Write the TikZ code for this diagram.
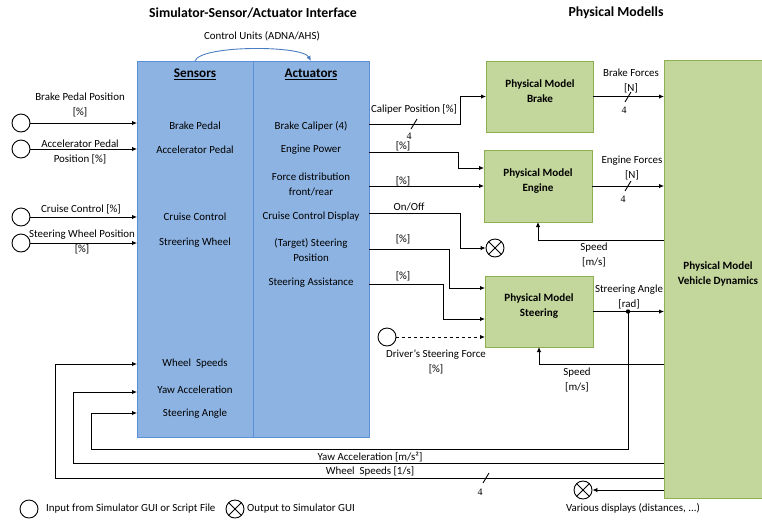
\documentclass[tikz,border=0pt]{standalone}
\usepackage{fontspec}
\setmainfont{Carlito}
\newfontfamily\numfont{Liberation Serif}
\usetikzlibrary{arrows.meta}
\definecolor{bluefill}{HTML}{8DB3E2}
\definecolor{blueline}{HTML}{5B8FD6}
\definecolor{greenfill}{HTML}{C3D69B}
\definecolor{greenline}{HTML}{8EB04E}
\definecolor{arcblue}{HTML}{4A7EC0}
\begin{document}
\begin{tikzpicture}[x=1pt,y=-1pt,
  font=\fontsize{10.9}{15}\selectfont,
  txt/.style={inner sep=0pt, align=center, font=\fontsize{10.9}{15}\selectfont},
  bold/.style={txt, font=\fontsize{11.1}{15}\selectfont\bfseries},
  hdr/.style={txt, font=\fontsize{13.2}{15}\selectfont\bfseries},
  line/.style={draw=black, line width=0.9pt},
  arr/.style={line, -{Latex[length=5pt,width=4.5pt]}},
  bluebox/.style={draw=blueline, fill=bluefill, line width=1pt, inner sep=0pt, outer sep=0pt, anchor=north west},
  greenbox/.style={draw=greenline, fill=greenfill, line width=1pt, inner sep=0pt, outer sep=0pt, anchor=north west},
  incirc/.style={draw=black, line width=0.9pt, circle, minimum size=18pt, inner sep=0pt, fill=white},
  outcirc/.style={incirc, path picture={\draw[line width=0.9pt] (path picture bounding box.north west) -- (path picture bounding box.south east) (path picture bounding box.north east) -- (path picture bounding box.south west);}},
  busnum/.style={inner sep=0pt, font=\fontsize{10}{10}\numfont},
]
\useasboundingbox (0,0) rectangle (762,520);

% titles
\node[txt, font=\fontsize{13.8}{15}\selectfont\bfseries] (t1) at (253,13) {Simulator-Sensor/Actuator Interface};
\node[txt, font=\fontsize{13.8}{15}\selectfont\bfseries] (t2) at (616,13) {Physical Modells};

% blue boxes
\node[bluebox, minimum width=116pt, minimum height=376pt] (sens) at (137,61) {};
\node[bluebox, minimum width=116pt, minimum height=376pt] (act) at (253,61) {};

% control units arc
\coordinate (cu1) at (195,61);
\coordinate (cu2) at (311,61);
\draw[draw=arcblue, line width=0.9pt, -{Latex[length=5pt,width=4.5pt]}] (cu1) .. controls (200,45) and (302,45) .. (cu2);
\node[txt] (cul) at (262,36) {Control Units (ADNA/AHS)};

% headers
\node[hdr] (hs) at (195,74) {\underline{Sensors}};
\node[hdr] (ha) at (311,74) {\underline{Actuators}};

% sensor labels
\node[txt] (s1) at (195,126) {Brake Pedal};
\node[txt] (s2) at (195,150) {Accelerator Pedal};
\node[txt] (s3) at (195,217) {Cruise Control};
\node[txt] (s4) at (195,243) {Streering Wheel};
\node[txt] (s5) at (195,364) {Wheel\ \ Speeds};
\node[txt] (s6) at (195,390) {Yaw Acceleration};
\node[txt] (s7) at (195,414) {Steering Angle};

% actuator labels
\node[txt] (a1) at (311,126) {Brake Caliper (4)};
\node[txt] (a2) at (311,150) {Engine Power};
\node[txt] (a3) at (311,184) {Force distribution\\front/rear};
\node[txt] (a4) at (311,217) {Cruise Control Display};
\node[txt] (a5) at (311,250) {(Target) Steering\\Position};
\node[txt] (a6) at (311,283) {Steering Assistance};

% green boxes
\node[greenbox, minimum width=107pt, minimum height=71pt] (brake) at (486,61) {};
\node[greenbox, minimum width=108pt, minimum height=72pt] (engine) at (484,150) {};
\node[greenbox, minimum width=108pt, minimum height=71pt] (steer) at (485,276) {};
\node[greenbox, minimum width=104pt, minimum height=438pt] (vd) at (664,60) {};
\node[bold] (bl) at (540,91) {Physical Model\\Brake};
\node[bold] (el) at (538,181) {Physical Model\\Engine};
\node[bold] (stl) at (539,306) {Physical Model\\Steering};
\node[bold] (vdl) at (718,274) {Physical Model\\Vehicle Dynamics};

% inputs from GUI
\node[incirc] (i1) at (21,123) {};
\node[incirc] (i2) at (21,149) {};
\node[incirc] (i3) at (21,217) {};
\node[incirc] (i4) at (21,243) {};
\draw[arr] (i1.east) -- (i1.east -| sens.west);
\draw[arr] (i2.east) -- (i2.east -| sens.west);
\draw[arr] (i3.east) -- (i3.east -| sens.west);
\draw[arr] (i4.east) -- (i4.east -| sens.west);
\node[txt] (il1) at (80,104.5) {Brake Pedal Position\\{[\%]}};
\node[txt] (il2) at (80,151.5) {Accelerator Pedal\\Position [\%]};
\node[txt] (il3) at (81,209) {Cruise Control [\%]};
\node[txt] (il4) at (82,242) {Steering Wheel Position\\{[\%]}};

% actuator outputs
\draw[arr] (act.east |- 0,124) -- (460,124) |- (brake.west);
\node[txt] (cpl) at (414,109) {Caliper Position [\%]};
\coordinate (sl1) at (414,124);
\draw[line] ([shift={(-3,5)}]sl1) -- ([shift={(3,-5)}]sl1);
\node[busnum] (n1) at (409,136) {4};

\draw[arr] (act.east |- 0,152) -- (458,152) |- (engine.west |- 0,168);
\node[txt] (epl) at (403,146) {[\%]};
\draw[arr] (act.east |- 0,186) -- (engine.west);
\node[txt] (fdl) at (403,181) {[\%]};

\node[outcirc] (o1) at (495,248) {};
\draw[arr] (act.east |- 0,213) -- (460,213) |- (o1.west);
\node[txt] (onl) at (409,207) {On/Off};

\draw[arr] (act.east |- 0,249) -- (449,249) |- (steer.west |- 0,288);
\node[txt] (tsl) at (403,239) {[\%]};
\draw[arr] (act.east |- 0,284) -- (443,284) |- (steer.west |- 0,319);
\node[txt] (sal) at (403,276) {[\%]};

\node[incirc] (dc) at (387,337) {};
\draw[arr, dashed] (dc.east) -- (dc.east -| steer.west);
\node[txt] (dcl) at (436,361.5) {Driver's Steering Force\\{[\%]}};

% physical model outputs
\draw[arr] (brake.east) -- (brake.east -| vd.west);
\node[txt] (bfl) at (631,80.5) {Brake Forces\\{[N]}};
\coordinate (sl2) at (628,97);
\draw[line] ([shift={(-3,5)}]sl2) -- ([shift={(3,-5)}]sl2);
\node[busnum] (n2) at (624,110) {4};

\draw[arr] (engine.east) -- (engine.east -| vd.west);
\node[txt] (efl) at (632,167.5) {Engine Forces\\{[N]}};
\coordinate (sl3) at (628,186);
\draw[line] ([shift={(-3,5)}]sl3) -- ([shift={(3,-5)}]sl3);
\node[busnum] (n3) at (623,199) {4};

\draw[arr] (vd.west |- 0,240) -| (engine.south);
\node[txt] (spl1) at (594,255) {Speed\\{[m/s]}};

\draw[arr] (steer.east) -- (steer.east -| vd.west);
\node[txt] (sanl) at (629,296.5) {Streering Angle\\{[rad]}};
\coordinate (dot) at (628,311.5);
\fill (dot) circle (2.2pt);

\draw[arr] (vd.west |- 0,364) -| (steer.south);
\node[txt] (spl2) at (577,380) {Speed\\{[m/s]}};

% feedback to sensors
\draw[arr] (dot) |- (91,449) |- (sens.west |- 0,413);
\draw[arr] (vd.west |- 0,463) -| (73,392) -- (sens.west |- 0,392);
\node[txt] (yal) at (370,457) {Yaw Acceleration [m/s²]};
\draw[arr] (vd.west |- 0,478) -| (55,364) -- (sens.west |- 0,364);
\node[txt] (wsl) at (370,471) {Wheel\ \ Speeds [1/s]};
\coordinate (sl4) at (486,478);
\draw[line] ([shift={(-3,5)}]sl4) -- ([shift={(3,-5)}]sl4);
\node[busnum] (n4) at (480,492) {4};

\node[outcirc] (o2) at (583,490) {};
\draw[arr] (vd.west |- 0,490) -- (o2.east);
\node[txt] (vdd) at (633,508) {Various displays (distances, ...)};

% legend
\node[incirc] (lg1) at (29,509) {};
\node[txt, anchor=west] (lg1t) at (46,509) {Input from Simulator GUI or Script File};
\node[outcirc] (lg2) at (235,509) {};
\node[txt, anchor=west] (lg2t) at (247,509) {Output to Simulator GUI};
\end{tikzpicture}
\end{document}
